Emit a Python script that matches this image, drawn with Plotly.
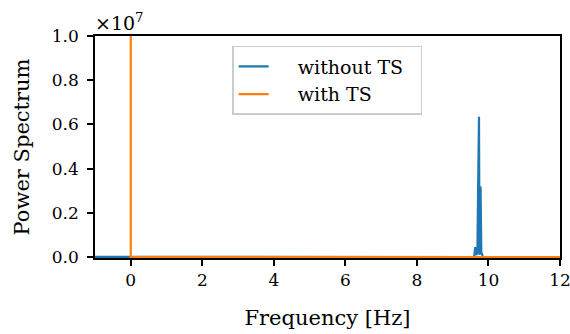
import plotly.graph_objects as go

# Data (raw power; axis shows x1e7)
freq_without = [-1.0, -0.05, 0.0, 5.0, 9.55, 9.60, 9.63, 9.66, 9.69, 9.72, 9.735, 9.75, 9.77, 9.78, 9.80, 9.82, 9.84, 9.9, 12.0]
power_without = [1.2e4, 1.0e4, 0.0, 0.0, 0.0, 0.0, 4.5e5, 1.0e5, 2.0e5, 6.35e6, 6.35e6, 1.0e5, 3.2e6, 3.1e6, 2.0e5, 1.5e5, 0.0, 0.0, 0.0]

freq_with = [0.0, 0.0, 0.0, 3.0, 6.0, 9.0, 12.0]
power_with = [0.0, 3.0e7, 0.0, 0.0, 0.0, 0.0, 0.0]

SCALE = 1e7
x_ticks = [0, 2, 4, 6, 8, 10, 12]
y_ticks = [0.0, 0.2, 0.4, 0.6, 0.8, 1.0]

FONT = "DejaVu Serif"
NB = "\u00a0"

fig = go.Figure()
fig.add_trace(go.Scatter(x=freq_without, y=[p / SCALE for p in power_without],
                         mode="lines", name=NB * 4 + "without TS" + NB * 2,
                         line=dict(color="#1f77b4", width=2.2)))
fig.add_trace(go.Scatter(x=freq_with, y=[p / SCALE for p in power_with],
                         mode="lines", name=NB * 4 + "with TS",
                         line=dict(color="#ff7f0e", width=2.2, simplify=False)))

axis_common = dict(showgrid=False, zeroline=False, showline=True, linecolor="black",
                   linewidth=1.5, mirror=True, ticks="outside", ticklen=6, tickwidth=1.5,
                   tickcolor="black", automargin=False, ticklabeloverflow="allow",
                   layer="below traces",
                   tickfont=dict(family=FONT, size=17, color="black"))

fig.update_layout(
    width=570, height=334,
    margin=dict(l=95, r=10, t=36, b=76),
    paper_bgcolor="white", plot_bgcolor="white",
    font=dict(family=FONT, size=17, color="black"),
    showlegend=True,
    legend=dict(x=0.295, y=0.955, xanchor="left", yanchor="top",
                bgcolor="white", bordercolor="#cccccc", borderwidth=1.5,
                font=dict(family=FONT, size=19), tracegroupgap=0),
    xaxis=dict(range=[-1, 12], tickvals=x_ticks, ticktext=[str(t) for t in x_ticks],
               title=dict(text="Frequency [Hz]", font=dict(family=FONT, size=21), standoff=21),
               **axis_common),
    yaxis=dict(range=[-0.004, 1.0], tickvals=y_ticks, ticktext=[f"{t:.1f}" for t in y_ticks],
               ticklabelstandoff=5,
               title=dict(text="Power Spectrum", font=dict(family=FONT, size=21), standoff=16),
               **axis_common),
    annotations=[dict(text="×10<sup>7</sup>", xref="paper", yref="paper", x=0.0, y=1.0,
                      xanchor="left", yanchor="bottom", showarrow=False,
                      font=dict(family=FONT, size=19), yshift=0, xshift=-2)],
)

fig.write_html("out.html")
